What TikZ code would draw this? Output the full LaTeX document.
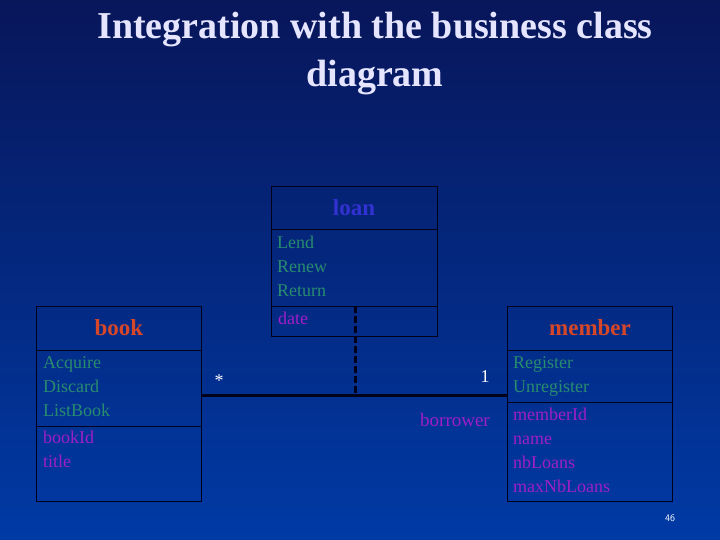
\documentclass[tikz,border=0pt]{standalone}
\usepackage{fontspec}
\setmainfont{Liberation Serif}
\begin{document}
\begin{tikzpicture}[x=1pt,y=-1pt,
  box/.style={draw=black!90!blue,line width=1pt,inner sep=0,anchor=north west},
  div/.style={black!90!blue,line width=1pt},
  cname/.style={font=\bfseries\fontsize{23}{23}\selectfont,text={rgb,255:red,214;green,70;blue,40}},
  op/.style={font=\fontsize{18}{24}\selectfont,text={rgb,255:red,40;green,140;blue,110},anchor=north west,align=left,inner sep=0},
  attr/.style={font=\fontsize{18}{24}\selectfont,text={rgb,255:red,160;green,30;blue,200},anchor=north west,align=left,inner sep=0},
  lbl/.style={font=\fontsize{18}{18}\selectfont,text=white}]
\shade[top color={rgb,255:red,8;green,22;blue,90},bottom color={rgb,255:red,0;green,58;blue,165}] (0,0) rectangle (720,540);
\useasboundingbox (0,0) rectangle (720,540);
\node[font=\bfseries\fontsize{38}{48}\selectfont,text=white!90!blue,align=center] (title) at (375,54) {Integration with the business class\\diagram};
% loan
\node[box,minimum width=166,minimum height=150] (loan) at (271,186) {};
\draw[div] (271,230) -- (437,230) (271,306) -- (437,306);
\node[font=\bfseries\fontsize{23}{23}\selectfont,text={rgb,255:red,50;green,50;blue,210}] (loanname) at (354,208) {loan};
\node[op] (loanops) at (277,236) {Lend\\Renew\\Return};
\node[attr] (loanattr) at (278,312) {date};
% book
\node[box,minimum width=165,minimum height=195] (book) at (36,306) {};
\draw[div] (36,350) -- (201,350) (36,426) -- (201,426);
\node[cname] (bookname) at (119,328) {book};
\node[op] (bookops) at (43,356) {Acquire\\Discard\\ListBook};
\node[attr] (bookattr) at (43,431) {bookId\\title};
% member
\node[box,minimum width=165,minimum height=195] (member) at (507,306) {};
\draw[div] (507,350) -- (672,350) (507,402) -- (672,402);
\node[cname] (membername) at (590,328) {member};
\node[op] (memberops) at (513,356) {Register\\Unregister};
\node[attr] (memberattr) at (513,408) {memberId\\name\\nbLoans\\maxNbLoans};
% association
\coordinate (a1) at (201,395);
\coordinate (a2) at (507,395);
\coordinate (mid) at (355,395);
\coordinate (ltop) at (355,306);
\draw[line width=3pt,black!90!blue] (a1) -- (a2);
\draw[line width=3pt,black!90!blue,dash pattern=on 7pt off 3pt] (ltop) -- (mid);
\node[lbl] (star) at (219,381) {*};
\node[lbl] (one) at (485,377) {1};
\node[font=\fontsize{19}{19}\selectfont,text={rgb,255:red,160;green,30;blue,200}] (borrower) at (455,420) {borrower};
\node[font=\sffamily\fontsize{10}{10}\selectfont,text=white] (pg) at (670,518) {46};
\end{tikzpicture}
\end{document}
